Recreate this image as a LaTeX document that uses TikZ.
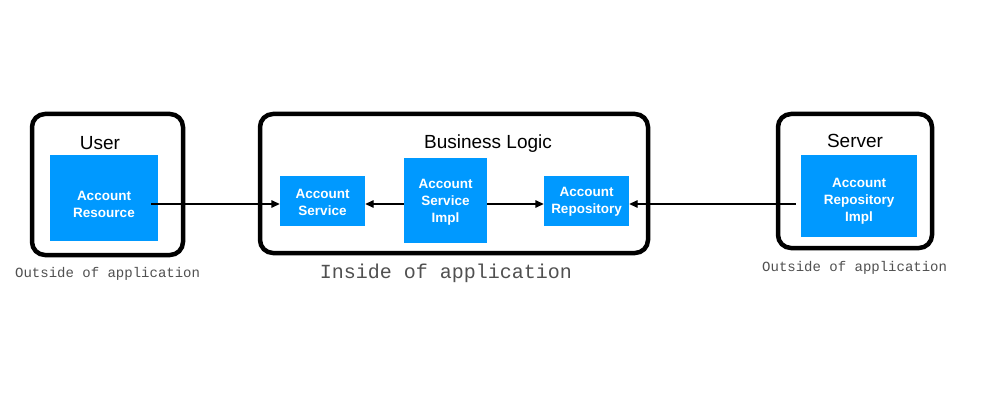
\documentclass[tikz,border=0pt]{standalone}
\usepackage{fontspec}
\setmainfont{Liberation Sans}
\newfontfamily\monof{Liberation Mono}
\usetikzlibrary{arrows.meta,calc}
\definecolor{boxblue}{RGB}{0,153,255}
\definecolor{mongrey}{RGB}{80,80,80}
\begin{document}
\begin{tikzpicture}[x=1pt,y=-1pt,
  frame/.style={draw=black,line width=4.5pt,rounded corners=13pt,fill=white},
  bluebox/.style={fill=boxblue,draw=none,inner sep=0pt},
  lbl/.style={inner sep=0pt,text=white,align=center,
    font=\fontsize{13.5}{17}\selectfont\bfseries},
  title/.style={anchor=base,inner sep=0pt,font=\fontsize{19}{22}\selectfont},
  note/.style={inner sep=0pt,text=mongrey},
  conn/.style={line width=1.4pt,-{Triangle[length=8.5pt,width=7.5pt]}}]
\useasboundingbox (0,0) rectangle (982,406);
\fill[white] (0,0) rectangle (982,406);
% frames
\draw[frame] (32,114) rectangle (183,255);
\draw[frame] (260,114) rectangle (648,253);
\draw[frame] (778,114) rectangle (932,248);
% titles
\node[title] (tuser) at (100,150) {User};
\node[title] (tbl) at (488,149) {Business Logic};
\node[title] (tsrv) at (855,148) {Server};
% blue boxes
\node[bluebox,minimum width=108pt,minimum height=86pt,
  label={[lbl,yshift=-6.5pt]center:{Account\\Resource}}] (res) at (104,198) {};
\node[bluebox,minimum width=85pt,minimum height=50pt,
  label={[lbl,yshift=-1.5pt]center:{Account\\Service}}] (svc) at (322.5,201) {};
\node[bluebox,minimum width=83pt,minimum height=85pt,
  label={[lbl,yshift=-1.5pt]center:{Account\\Service\\Impl}}] (impl) at (445.5,200.5) {};
\node[bluebox,minimum width=85pt,minimum height=50pt,
  label={[lbl,yshift=-0.5pt]center:{Account\\Repository}}] (repo) at (586.5,201) {};
\node[bluebox,minimum width=116pt,minimum height=82pt,
  label={[lbl,yshift=-5.5pt]center:{Account\\Repository\\Impl}}] (rimpl) at (859,196) {};
% notes
\node[note,anchor=base west,font=\monof\fontsize{14}{16}\selectfont] (n1) at (15,277) {Outside of application};
\node[note,anchor=base,font=\monof\fontsize{20}{22}\selectfont] (n2) at (446,278) {Inside of application};
\node[note,anchor=base west,font=\monof\fontsize{14}{16}\selectfont] (n3) at (762,271) {Outside of application};
% connectors
\coordinate (ay) at (0,204);
\draw[conn,shorten <=-7pt] (res.east |- ay) -- (svc.west |- ay);
\draw[conn] (impl.west |- ay) -- (svc.east |- ay);
\draw[conn] (impl.east |- ay) -- (repo.west |- ay);
\draw[conn,shorten <=5pt] (rimpl.west |- ay) -- (repo.east |- ay);
\end{tikzpicture}
\end{document}
